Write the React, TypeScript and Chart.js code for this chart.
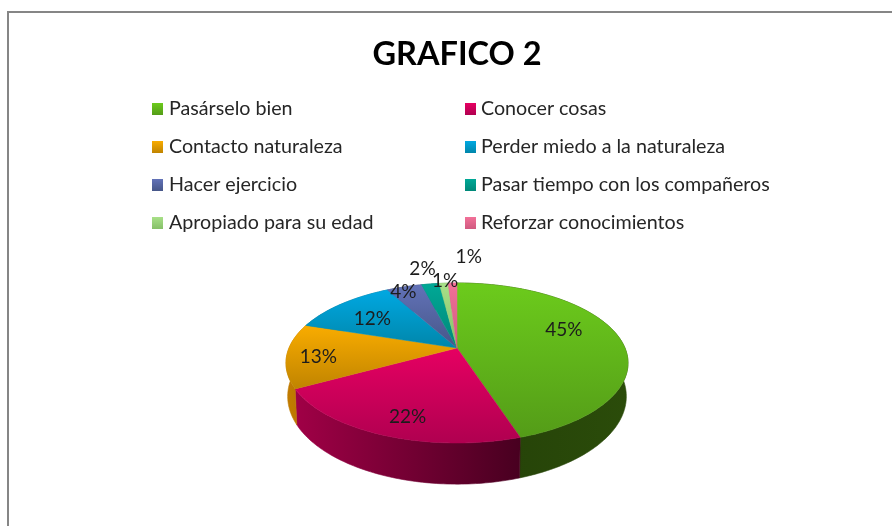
import React, { useEffect, useRef } from "react";
import { Chart, registerables } from "chart.js";

Chart.register(...registerables);

const categories = [
  "Pasárselo bien",
  "Conocer cosas",
  "Contacto naturaleza",
  "Perder miedo a la naturaleza",
  "Hacer ejercicio",
  "Pasar tiempo con los compañeros",
  "Apropiado para su edad",
  "Reforzar conocimientos",
];
const values = [45, 22, 13, 12, 4, 2, 1, 1];
const chartTitle = "GRAFICO 2";

const topLight = ["#6ccb1c", "#e60062", "#f9ac00", "#00a8e2", "#6272b8", "#00a896", "#a8e088", "#f27098"];
const topDark = ["#549c18", "#b00050", "#c08400", "#0086aa", "#465688", "#008878", "#86c068", "#d05a80"];
const wallLight = ["#244008", "#a00046", "#c27c00", "#006f90", "#3a4670", "#006f62", "#6e9e55", "#a84868"];
const wallDark = ["#2b4c0a", "#480020", "#b87400", "#006f90", "#3a4670", "#006f62", "#6e9e55", "#a84868"];
const labelOffsets = [
  [-7, -10], [0, 12], [-20, 4], [-1, 3], [-15, -11], [-15, -32], [-2, -20], [15, -43],
];

const TILT = 0.4595;
const PERSPECTIVE = 0.1875;
const FONT = "Lato, Carlito, Calibri, sans-serif";

function project(arc: any, theta: number, r: number) {
  const s = Math.sin(theta);
  const w = 1 - PERSPECTIVE * r * s;
  return {
    x: arc.x + (arc.outerRadius * r * Math.cos(theta)) / w,
    y: arc.y + (arc.outerRadius * TILT * r * s) / w,
  };
}

function lowered(arc: any, p: { x: number; y: number }) {
  return {
    x: arc.x + (p.x - arc.x) * 0.99,
    y: arc.y + (p.y - arc.y) * 1.096 + 32,
  };
}

function edgePoints(arc: any) {
  const pts: { x: number; y: number }[] = [];
  const n = Math.max(2, Math.ceil(((arc.endAngle - arc.startAngle) * 180) / Math.PI));
  for (let i = 0; i <= n; i++) {
    pts.push(project(arc, arc.startAngle + ((arc.endAngle - arc.startAngle) * i) / n, 1));
  }
  return pts;
}

const pie3d = {
  id: "pie3d",
  beforeDraw(chart: any) {
    const { ctx, width, height } = chart;
    ctx.save();
    ctx.fillStyle = "#ffffff";
    ctx.fillRect(0, 0, width, height);
    ctx.strokeStyle = "#868686";
    ctx.lineWidth = 2;
    ctx.beginPath();
    ctx.moveTo(8, height);
    ctx.lineTo(8, 12);
    ctx.lineTo(width, 12);
    ctx.stroke();
    ctx.restore();
  },
  beforeDatasetDraw(chart: any) {
    const { ctx } = chart;
    const arcs = chart.getDatasetMeta(0).data;
    ctx.save();
    arcs.forEach((arc: any, i: number) => {
      const top = edgePoints(arc);
      const bottom = top.map((p) => lowered(arc, p));
      const xs = top.map((p) => p.x);
      const g = ctx.createLinearGradient(Math.min(...xs), 0, Math.max(...xs), 0);
      g.addColorStop(0, wallLight[i]);
      g.addColorStop(1, wallDark[i]);
      ctx.fillStyle = g;
      ctx.strokeStyle = g;
      ctx.lineWidth = 0.6;
      ctx.beginPath();
      top.forEach((p, k) => (k ? ctx.lineTo(p.x, p.y) : ctx.moveTo(p.x, p.y)));
      [...bottom].reverse().forEach((p) => ctx.lineTo(p.x, p.y));
      ctx.closePath();
      ctx.fill();
      ctx.stroke();
    });
    arcs.forEach((arc: any, i: number) => {
      const top = edgePoints(arc);
      const ys = [...top.map((p) => p.y), arc.y];
      const g = ctx.createLinearGradient(0, Math.min(...ys), 0, Math.max(...ys));
      g.addColorStop(0, topLight[i]);
      g.addColorStop(1, topDark[i]);
      ctx.fillStyle = g;
      ctx.strokeStyle = g;
      ctx.lineWidth = 0.5;
      ctx.beginPath();
      ctx.moveTo(arc.x, arc.y);
      top.forEach((p) => ctx.lineTo(p.x, p.y));
      ctx.closePath();
      ctx.fill();
      ctx.stroke();
    });
    ctx.restore();
    return false;
  },
  afterDraw(chart: any) {
    const { ctx } = chart;
    const arcs = chart.getDatasetMeta(0).data;
    const data: number[] = chart.data.datasets[0].data;
    const total = data.reduce((a, b) => a + b, 0);
    ctx.save();
    // data labels
    ctx.font = `19px ${FONT}`;
    ctx.fillStyle = "#1c1c1c";
    ctx.textAlign = "center";
    ctx.textBaseline = "middle";
    arcs.forEach((arc: any, i: number) => {
      const p = project(arc, (arc.startAngle + arc.endAngle) / 2, 0.7);
      const text = `${Math.round((data[i] / total) * 100)}%`;
      ctx.fillText(text, p.x + labelOffsets[i][0], p.y + labelOffsets[i][1]);
    });
    // two-column legend
    ctx.font = `19.7px ${FONT}`;
    ctx.textAlign = "left";
    categories.forEach((name, i) => {
      const col = i % 2;
      const row = Math.floor(i / 2);
      const x = col ? 465 : 152;
      const y = 109 + row * 38;
      const g = ctx.createLinearGradient(0, y - 6, 0, y + 6);
      g.addColorStop(0, topLight[i]);
      g.addColorStop(1, topDark[i]);
      ctx.fillStyle = g;
      ctx.fillRect(x, y - 6, 11, 12);
      ctx.fillStyle = "#262626";
      ctx.fillText(name, x + (col ? 16 : 17), y);
    });
    ctx.restore();
  },
};

export default function App() {
  const ref = useRef<HTMLCanvasElement>(null);
  useEffect(() => {
    const chart = new Chart(ref.current!, {
      type: "pie",
      data: {
        labels: categories,
        datasets: [{ data: values, backgroundColor: topLight, borderWidth: 0 }],
      },
      options: {
        animation: false,
        responsive: false,
        events: [],
        layout: { padding: { left: 22, bottom: 10, top: 0, right: 0 } },
        plugins: {
          legend: { display: false },
          tooltip: { enabled: false },
          title: {
            display: true,
            text: chartTitle,
            color: "#000000",
            font: { family: FONT, size: 32.5, weight: "bold" },
            padding: { top: 34.7, bottom: 106.3 },
          },
        },
      },
      plugins: [pie3d],
    } as any);
    return () => chart.destroy();
  }, []);
  return (
    <div style={{ position: "fixed", left: 0, top: 0, width: 892, height: 526, background: "#fff" }}>
      <canvas ref={ref} width={892} height={526} style={{ display: "block" }} />
    </div>
  );
}
